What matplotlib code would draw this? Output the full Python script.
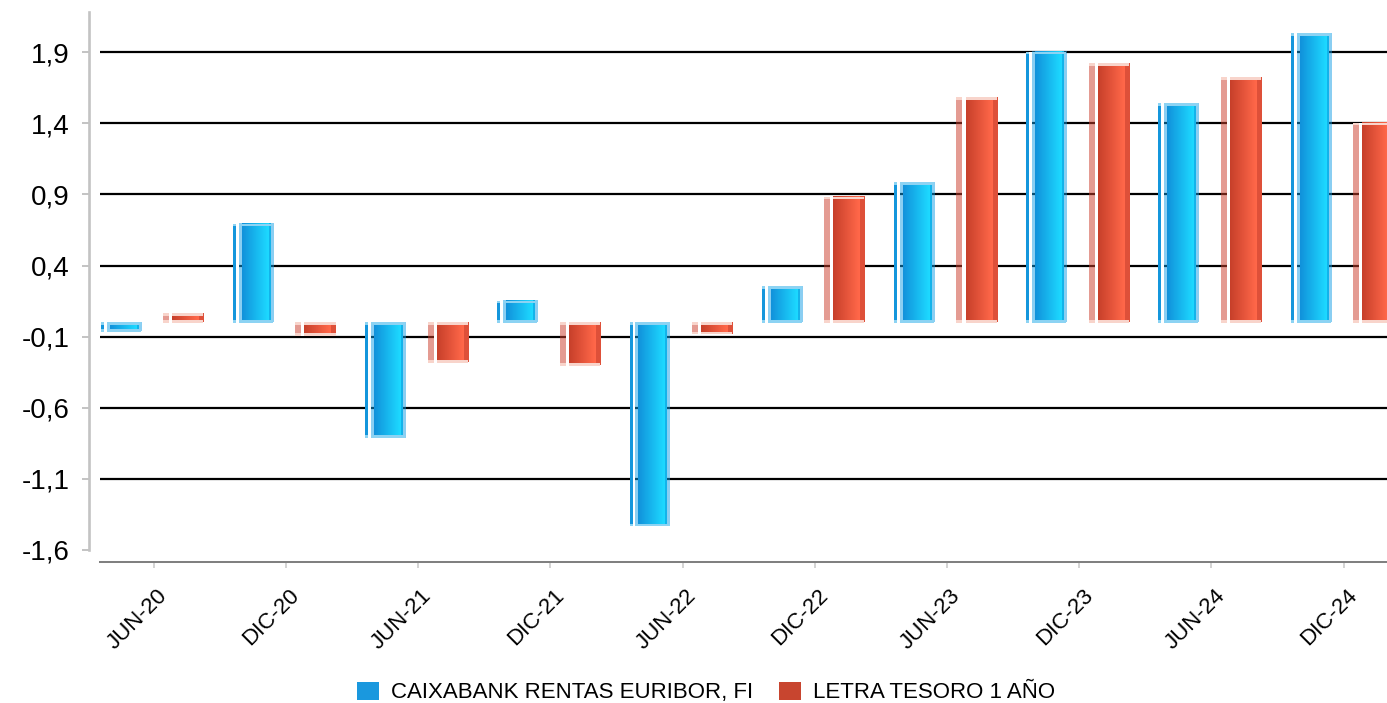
import numpy as np
import matplotlib
matplotlib.use("Agg")
import matplotlib.pyplot as plt
from matplotlib.patches import Rectangle, Patch
from matplotlib.colors import to_rgba
from matplotlib.transforms import ScaledTranslation

# ---------------- data ----------------
categories = ["JUN-20", "DIC-20", "JUN-21", "DIC-21", "JUN-22",
              "DIC-22", "JUN-23", "DIC-23", "JUN-24", "DIC-24"]
fund_values = [-0.06, 0.69, -0.81, 0.15, -1.43, 0.25, 0.98, 1.90, 1.54, 2.03]
letra_values = [0.06, -0.09, -0.28, -0.30, -0.08, 0.88, 1.58, 1.82, 1.72, 1.40]
series_names = ["CAIXABANK RENTAS EURIBOR, FI", "LETRA TESORO 1 AÑO"]
ytick_values = [-1.6, -1.1, -0.6, -0.1, 0.4, 0.9, 1.4, 1.9]
ytick_labels = ["-1,6", "-1,1", "-0,6", "-0,1", "0,4", "0,9", "1,4", "1,9"]
grid_values = [-1.1, -0.6, -0.1, 0.4, 0.9, 1.4, 1.9]

plt.rcParams['font.family'] = ['Liberation Sans', 'DejaVu Sans']

W, H = 1387, 703
fig = plt.figure(figsize=(W / 100, H / 100), dpi=100)
ax_left, ax_right, ax_top, ax_bottom = 89, 1387, 12, 562.3
ax = fig.add_axes([ax_left / W, 1 - ax_bottom / H, (ax_right - ax_left) / W, (ax_bottom - ax_top) / H])

XLIM = (-0.4894, 9.328)
YLIM = (-1.687, 2.183)

# ---------------- style ----------------
BLUE_STRIP = "#1496DC"
BLUE_LEG = "#1A98DE"
RED_LEG = "#C8452F"
BLUE_END = "#8CD3F3"
RED_END = "#F8D4CB"

# bar geometry (offsets from group centre, in group units)
B_STRIP = (-0.401, -0.378)
B_MAIN = (-0.356, -0.098)
R_STRIP = (0.071, 0.117)
R_MAIN = (0.140, 0.375)
END_H = 0.019


def hexrgb(h):
    return np.array(to_rgba(h))


def blue_gradient(n=80):
    img = np.zeros((1, n, 4))
    border = np.array([0.08, 0.62, 0.90, 0.5])
    c0, c1, c2 = hexrgb("#1190DA"), hexrgb("#1DD8FF"), hexrgb("#13B3EA")
    for k in range(n):
        f = (k + 0.5) / n
        if f < 0.08 or f > 0.92:
            img[0, k] = border
        elif f < 0.82:
            t = (f - 0.08) / (0.82 - 0.08)
            img[0, k] = c0 * (1 - t) + c1 * t
        elif f < 0.86:
            img[0, k] = c1
        else:
            img[0, k] = c2
    return img


def red_gradient(n=80):
    img = np.zeros((1, n, 4))
    c0, c1, c2 = hexrgb("#C63F2A"), hexrgb("#FF6749"), hexrgb("#DE5039")
    for k in range(n):
        f = (k + 0.5) / n
        if f < 0.80:
            t = f / 0.80
            img[0, k] = c0 * (1 - t) + c1 * t
        elif f < 0.85:
            img[0, k] = c1
        else:
            img[0, k] = c2
    return img


BG = blue_gradient()
RG = red_gradient()

# grid lines
ax.hlines(grid_values, -0.406, XLIM[1], colors="black", linewidth=1.6, zorder=1)


def draw_bar(x, v, strip, main, strip_color, grad, end_color):
    lo, hi = min(0, v), max(0, v)
    h = hi - lo
    ax.add_patch(Rectangle((x + strip[0], lo), strip[1] - strip[0], h,
                           facecolor=strip_color, linewidth=0, zorder=3))
    ax.add_patch(Rectangle((x + strip[1], lo), main[0] - strip[1], h,
                           facecolor="white", linewidth=0, zorder=3))
    ax.imshow(grad, extent=(x + main[0], x + main[1], lo, hi), aspect="auto",
              interpolation="nearest", zorder=4)
    eh = min(END_H, h / 3)
    pad = 0.004
    for yy in (lo - pad, hi - eh + pad):
        ax.add_patch(Rectangle((x + strip[0], yy), main[1] - strip[0], eh,
                               facecolor=end_color, linewidth=0, zorder=5))
        ax.add_patch(Rectangle((x + strip[1], yy), main[0] - strip[1], eh,
                               facecolor="white", linewidth=0, zorder=5))


for i, v in enumerate(fund_values):
    draw_bar(i, v, B_STRIP, B_MAIN, BLUE_STRIP, BG, BLUE_END)
for i, v in enumerate(letra_values):
    draw_bar(i, v, R_STRIP, R_MAIN, (0.80, 0.25, 0.18, 0.52), RG, RED_END)

ax.set_xlim(*XLIM)
ax.set_ylim(*YLIM)

# spines
for s in ("top", "right"):
    ax.spines[s].set_visible(False)
ax.spines["left"].set_color("#C3C3C3")
ax.spines["left"].set_linewidth(1.9)
ax.spines["left"].set_bounds(-1.6, YLIM[1])
ax.spines["bottom"].set_color("#808080")
ax.spines["bottom"].set_linewidth(1.45)
ax.spines["bottom"].set_bounds(-0.406, XLIM[1])

ax.set_yticks(ytick_values)
ax.set_yticklabels(ytick_labels, fontsize=20)
ax.tick_params(axis="y", direction="out", length=5, width=1.4, color="#C3C3C3", pad=9)

ax.set_xticks(range(len(categories)))
ax.set_xticklabels(categories, fontsize=16, rotation=45, ha="right", va="top",
                   rotation_mode="anchor")
ax.tick_params(axis="x", direction="out", length=4.3, width=1.1, color="#C8C8C8", pad=12)
offset = ScaledTranslation(3 / 100, 0, fig.dpi_scale_trans)
for lab in ax.get_xticklabels():
    lab.set_transform(lab.get_transform() + offset)

handles = [Patch(facecolor=BLUE_LEG, edgecolor="none"), Patch(facecolor=RED_LEG, edgecolor="none")]
fig.legend(handles, series_names, loc="center", bbox_to_anchor=(0.509, 0.015), ncol=2,
           frameon=False, fontsize=16, handlelength=1.0, handleheight=0.9,
           handletextpad=0.55, columnspacing=1.15, borderpad=0, borderaxespad=0)

fig.savefig("out.png", dpi=100, facecolor="white")
